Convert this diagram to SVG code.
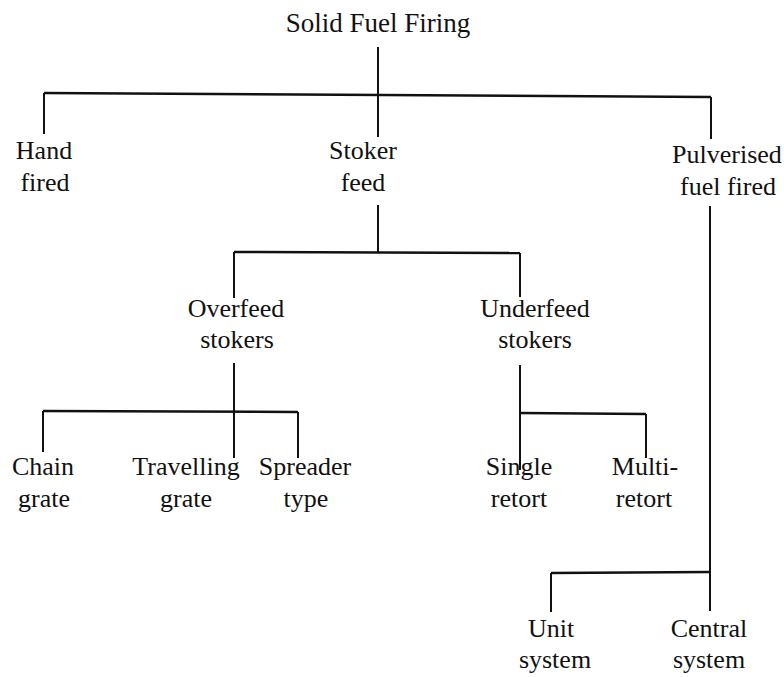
<svg xmlns="http://www.w3.org/2000/svg" width="784" height="677" viewBox="0 0 784 677">
<style>
text{font-family:"Liberation Serif","Times New Roman",serif;font-size:26px;fill:#111;text-anchor:middle}
.title{font-size:27px}
.c line{stroke:#111;stroke-width:2;fill:none}
.c line.h{stroke-width:2.5}
</style>
<rect width="784" height="677" fill="#fff"/>
<g id="connectors" class="c">
<line x1="378" y1="47" x2="378" y2="137"/>
<line class="h" x1="44" y1="93" x2="711" y2="97"/>
<line x1="44" y1="93" x2="44" y2="134"/>
<line x1="711" y1="97" x2="711" y2="139"/>
<line x1="378" y1="205" x2="378" y2="253"/>
<line class="h" x1="234" y1="252" x2="520" y2="253"/>
<line x1="234" y1="252" x2="234" y2="298"/>
<line x1="520" y1="253" x2="520" y2="297"/>
<line x1="234" y1="363" x2="234" y2="458"/>
<line class="h" x1="43" y1="411" x2="298" y2="412"/>
<line x1="43" y1="411" x2="43" y2="452"/>
<line x1="298" y1="412" x2="298" y2="458"/>
<line x1="520" y1="365" x2="520" y2="470"/>
<line class="h" x1="520" y1="413" x2="646" y2="414"/>
<line x1="646" y1="414" x2="646" y2="458"/>
<line x1="710" y1="206" x2="710" y2="611"/>
<line class="h" x1="551" y1="573" x2="710" y2="572"/>
<line x1="551" y1="573" x2="551" y2="612"/>
</g>
<g id="root"><text class="title" x="378" y="32">Solid Fuel Firing</text></g>
<g id="hand"><text x="44" y="159">Hand</text><text x="45" y="191">fired</text></g>
<g id="stoker"><text x="363" y="159">Stoker</text><text x="363" y="191">feed</text></g>
<g id="pulverised"><text x="727" y="163">Pulverised</text><text x="728" y="195">fuel fired</text></g>
<g id="overfeed"><text x="236" y="317">Overfeed</text><text x="237" y="348">stokers</text></g>
<g id="underfeed"><text x="535" y="317">Underfeed</text><text x="535" y="348">stokers</text></g>
<g id="chain"><text x="43" y="475">Chain</text><text x="44" y="507">grate</text></g>
<g id="travelling"><text x="186" y="475">Travelling</text><text x="186" y="507">grate</text></g>
<g id="spreader"><text x="305" y="475">Spreader</text><text x="306" y="507">type</text></g>
<g id="single"><text x="519" y="475">Single</text><text x="519" y="507">retort</text></g>
<g id="multi"><text x="645" y="475">Multi-</text><text x="644" y="507">retort</text></g>
<g id="unit"><text x="551" y="637">Unit</text><text x="555" y="668">system</text></g>
<g id="central"><text x="709" y="637">Central</text><text x="709" y="668">system</text></g>
</svg>
